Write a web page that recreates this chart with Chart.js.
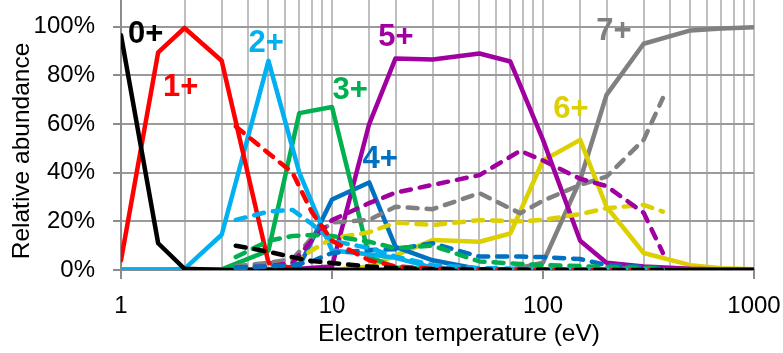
<!DOCTYPE html>
<html>
<head>
<meta charset="utf-8">
<script src="https://cdn.jsdelivr.net/npm/chart.js@4"></script>
<style>
  html, body { margin: 0; padding: 0; background: #fff; }
</style>
</head>
<body>
<canvas id="chart" width="783" height="353"></canvas>
<script>
// electron temperature (eV) for the solid curves
const tempSolid = [1, 1.5, 2, 3, 5, 7, 10, 15, 20, 30, 50, 70, 100, 150, 200, 300, 500, 700, 1000];
// relative abundance (%) - solid curves
const solid0 = [96.5, 11, 0.5, 0, 0, 0, 0, 0, 0, 0, 0, 0, 0, 0, 0, 0, 0, 0, 0];
const solid1 = [4, 89.5, 99.5, 86, 3, 0, 0, 0, 0, 0, 0, 0, 0, 0, 0, 0, 0, 0, 0];
const solid2 = [0, 0, 0.5, 14.5, 86, 40, 8, 6.5, 5, 1, 0, 0, 0, 0, 0, 0, 0, 0, 0];
const solid3 = [0, 0, 0, 0.3, 8, 64.5, 67, 5.5, 1, 0.3, 0, 0, 0, 0, 0, 0, 0, 0, 0];
const solid4 = [0, 0, 0, 0, 0.3, 1.5, 29, 36, 9.5, 4, 0.3, 0, 0, 0, 0, 0, 0, 0, 0];
const solid5 = [0, 0, 0, 0, 0, 0.5, 1.4, 60, 87, 86.5, 89, 85.7, 53.5, 12, 3, 1.4, 0.5, 0.2, 0];
const solid6 = [0, 0, 0, 0, 0, 0, 0, 1.4, 6, 12.3, 11.6, 15, 45, 53.5, 26, 7, 2, 0.7, 0.3];
const solid7 = [0, 0, 0, 0, 0, 0, 0, 0, 0, 0, 0, 0, 3, 37, 72, 93, 98.5, 99.3, 99.8];

// electron temperature (eV) for the dashed curves
const tempDashed = [3.5, 5, 6.5, 8, 10, 15, 20, 30, 50, 78, 100, 150, 200, 300, 370];
const dashed0 = [10, 7.5, 5.3, 3.7, 2.9, 1.4, 0.8, 0.3, 0.2, 0.1, 0.1, 0, 0, 0, 0];
const dashed1 = [59, 48, 40, 24, 12, 4, 1.5, 0.5, 0.3, 0.2, 0.1, 0, 0, 0, 0];
const dashed2 = [20.6, 24, 24.7, 19, 12, 9, 5.5, 2, 0.8, 0.5, 0.3, 0.2, 0.1, 0, 0];
const dashed3 = [5.3, 12, 14, 14.4, 14, 11.6, 9, 10, 3.5, 2.5, 2, 1.6, 1.2, 0.8, 0.5];
const dashed4 = [1, 1.5, 2, 3.5, 7, 8.2, 8.5, 11, 5.5, 5.5, 5.3, 4.5, 2, 1.2, 0.7];
const dashed5 = [1, 1.5, 3, 12, 20.5, 27.5, 31.8, 35, 39, 49, 45, 37.5, 34.5, 23.5, 7];
const dashed6 = [0.8, 1.5, 3, 8, 13, 15.5, 19.5, 18.5, 20.5, 20, 20.6, 23, 25.4, 26.8, 24];
const dashed7 = [1.5, 3, 4.5, 13, 19.5, 20.6, 26, 25, 31.6, 23.3, 28.5, 35, 38.4, 53.5, 70.7];

const chargeColors = ['#000000', '#ff0000', '#00b0f0', '#00b050', '#0070c0', '#a000a0', '#dcd000', '#808080'];

// in-plot charge state labels (data coordinates)
const labelText = ['0+', '1+', '2+', '3+', '4+', '5+', '6+', '7+'];
const labelTemp = [1.31, 1.92, 4.87, 12.2, 16.9, 20.1, 135.7, 217];
const labelPct = [97, 75, 93, 74, 45.5, 95.5, 66, 98];

const yTicks = [0, 20, 40, 60, 80, 100];
const xMajor = [1, 10, 100, 1000];
const xTitle = 'Electron temperature (eV)';
const yTitle = 'Relative abundance';

const solidSets = [solid0, solid1, solid2, solid3, solid4, solid5, solid6, solid7];
const dashedSets = [dashed0, dashed1, dashed2, dashed3, dashed4, dashed5, dashed6, dashed7];

const toPts = (xs, ys) => xs.map((x, i) => ({ x: x, y: ys[i] }));

const datasets = [];
// dashed ones first so they sit on top
dashedSets.forEach((d, i) => datasets.push({
  data: toPts(tempDashed, d), borderColor: chargeColors[i], borderWidth: 4.5,
  borderDash: [10, 9], borderCapStyle: 'round', borderJoinStyle: 'round', pointRadius: 0, tension: 0
}));
solidSets.forEach((d, i) => datasets.push({
  data: toPts(tempSolid, d), borderColor: chargeColors[i], borderWidth: 4.5,
  borderCapStyle: 'round', borderJoinStyle: 'round', pointRadius: 0, tension: 0
}));

const labelPlugin = {
  id: 'chargeLabels',
  afterDatasetsDraw(chart) {
    const c = chart.ctx, xs = chart.scales.x, ys = chart.scales.y;
    c.save();
    c.font = 'bold 31px "Liberation Sans"';
    c.textAlign = 'center';
    c.textBaseline = 'middle';
    labelText.forEach((t, i) => {
      c.fillStyle = chargeColors[i];
      c.fillText(t, xs.getPixelForValue(labelTemp[i]), ys.getPixelForValue(labelPct[i]));
    });
    c.restore();
  }
};

// axis titles: the original has them off-centre, so draw them by hand
const titlePlugin = {
  id: 'axisTitles',
  afterDraw(chart) {
    const c = chart.ctx, a = chart.chartArea;
    c.save();
    c.font = '24.5px "Liberation Sans"';
    c.fillStyle = '#000';
    c.textAlign = 'center';
    c.textBaseline = 'middle';
    c.fillText(xTitle, a.left + 338, chart.height - 19);
    c.translate(22, a.bottom - 119);
    c.rotate(-Math.PI / 2);
    c.fillText(yTitle, 0, 0);
    c.restore();
  }
};

const font = { family: 'Liberation Sans', size: 24 };

new Chart(document.getElementById('chart').getContext('2d'), {
  type: 'line',
  data: { datasets },
  plugins: [labelPlugin, titlePlugin],
  options: {
    responsive: false,
    animation: false,
    devicePixelRatio: 1,
    layout: { padding: { top: 0, right: 29, left: 0, bottom: 0 } },
    plugins: { legend: { display: false }, tooltip: { enabled: false } },
    scales: {
      x: {
        type: 'logarithmic', min: 1, max: 1000,
        ticks: {
          autoSkip: false, maxRotation: 0, color: '#000', font, padding: 13,
          callback: v => xMajor.includes(v) ? String(v) : ''
        },
        grid: {
          color: '#bfbfbf', lineWidth: 2, tickLength: 9, tickWidth: 2,
          tickColor: ctx => (ctx.tick && xMajor.includes(ctx.tick.value)) ? '#8c8c8c' : 'rgba(0,0,0,0)'
        },
        border: { color: '#8c8c8c', width: 2 },
        afterFit: s => { s.height = 83; s.paddingLeft = 0; s.paddingRight = 0; }
      },
      y: {
        min: 0, max: 111,
        afterBuildTicks: s => { s.ticks = yTicks.map(v => ({ value: v })); },
        ticks: { color: '#000', font, padding: 18, callback: v => v + '%' },
        grid: { color: '#9a9a9a', lineWidth: 2, tickLength: 8, tickColor: '#8c8c8c' },
        border: { color: '#8c8c8c', width: 2 },
        afterFit: s => { s.width = 121; s.paddingTop = 0; s.paddingBottom = 0; }
      }
    }
  }
});
</script>
</body>
</html>
